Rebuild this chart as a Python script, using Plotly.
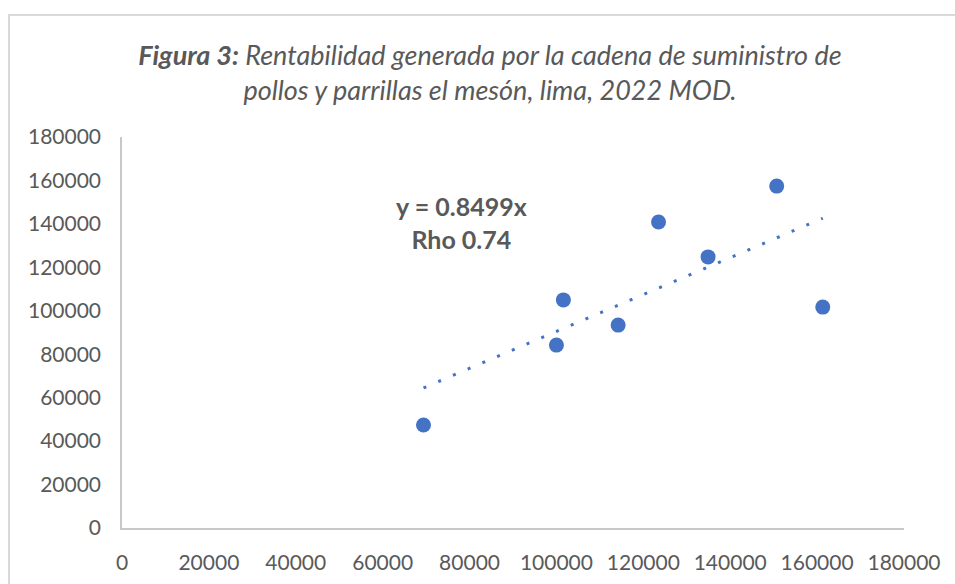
import numpy as np
import plotly.graph_objects as go

# Cost (x) vs. profitability (y) per observation
costo = [69400, 100000, 101600, 114200, 123500, 134900, 150700, 161300]
rentabilidad = [47400, 84200, 105000, 93400, 140900, 124800, 157400, 101700]

# Linear trendline parameters
pendiente = 0.8499
intercepto = 5500
rho = 0.74

x_ticks = list(range(0, 180001, 20000))
y_ticks = list(range(0, 180001, 20000))

AZUL = "#4472C4"
GRIS_TXT = "#595959"
GRIS_EJE = "#C8C8C8"
FONT = "Lato"

x_tr = np.array([min(costo), max(costo)], dtype=float)
y_tr = pendiente * x_tr + intercepto

fig = go.Figure()

fig.add_trace(go.Scatter(
    x=x_tr, y=y_tr, mode="lines",
    line=dict(color=AZUL, width=3, dash="3px,13px"),
    hoverinfo="skip", showlegend=False,
))

fig.add_trace(go.Scatter(
    x=costo, y=rentabilidad, mode="markers",
    marker=dict(color=AZUL, size=15, line=dict(width=0)),
    showlegend=False,
))

fig.update_layout(
    width=955, height=584,
    margin=dict(l=122, r=51, t=137, b=56),
    paper_bgcolor="white", plot_bgcolor="white",
    font=dict(family=FONT, color=GRIS_TXT),
    showlegend=False,
    title=dict(
        text="<b>Figura 3:</b> Rentabilidad generada por la cadena de suministro de<br>"
             "pollos y parrillas el mesón, lima, 2022 MOD.",
        x=(490 - 122) / 782, xref="paper", xanchor="center",
        y=1 - 65 / 584, yanchor="middle",
        font=dict(family=FONT, size=27, color=GRIS_TXT, style="italic"),
    ),
    xaxis=dict(
        range=[0, 180000], tickvals=x_ticks, tickformat="d",
        showline=True, linecolor=GRIS_EJE, linewidth=1.5,
        showgrid=False, zeroline=False, ticks="",
        tickfont=dict(family=FONT, size=21, color=GRIS_TXT),
        ticklabelstandoff=15, automargin=False,
    ),
    yaxis=dict(
        range=[0, 180000], tickvals=y_ticks, tickformat="d",
        showline=True, linecolor=GRIS_EJE, linewidth=1.5,
        showgrid=False, zeroline=False, ticks="",
        tickfont=dict(family=FONT, size=21, color=GRIS_TXT),
        ticklabelstandoff=15, automargin=False,
    ),
    annotations=[dict(
        text=f"<b>y = {pendiente}x<br>Rho {rho}</b>",
        xref="paper", yref="paper",
        x=(461 - 122) / 782, y=(528 - 222) / 391,
        xanchor="center", yanchor="middle",
        showarrow=False, align="center",
        font=dict(family=FONT, size=25, color=GRIS_TXT),
    )],
    shapes=[dict(
        type="rect", xref="paper", yref="paper",
        x0=(9 - 122) / 782, x1=(965 - 122) / 782,
        y0=(528 - 600) / 391, y1=(528 - 15) / 391,
        line=dict(color="#D9D9D9", width=2), fillcolor="rgba(0,0,0,0)",
        layer="below",
    )],
)

fig.write_html("out.html")
